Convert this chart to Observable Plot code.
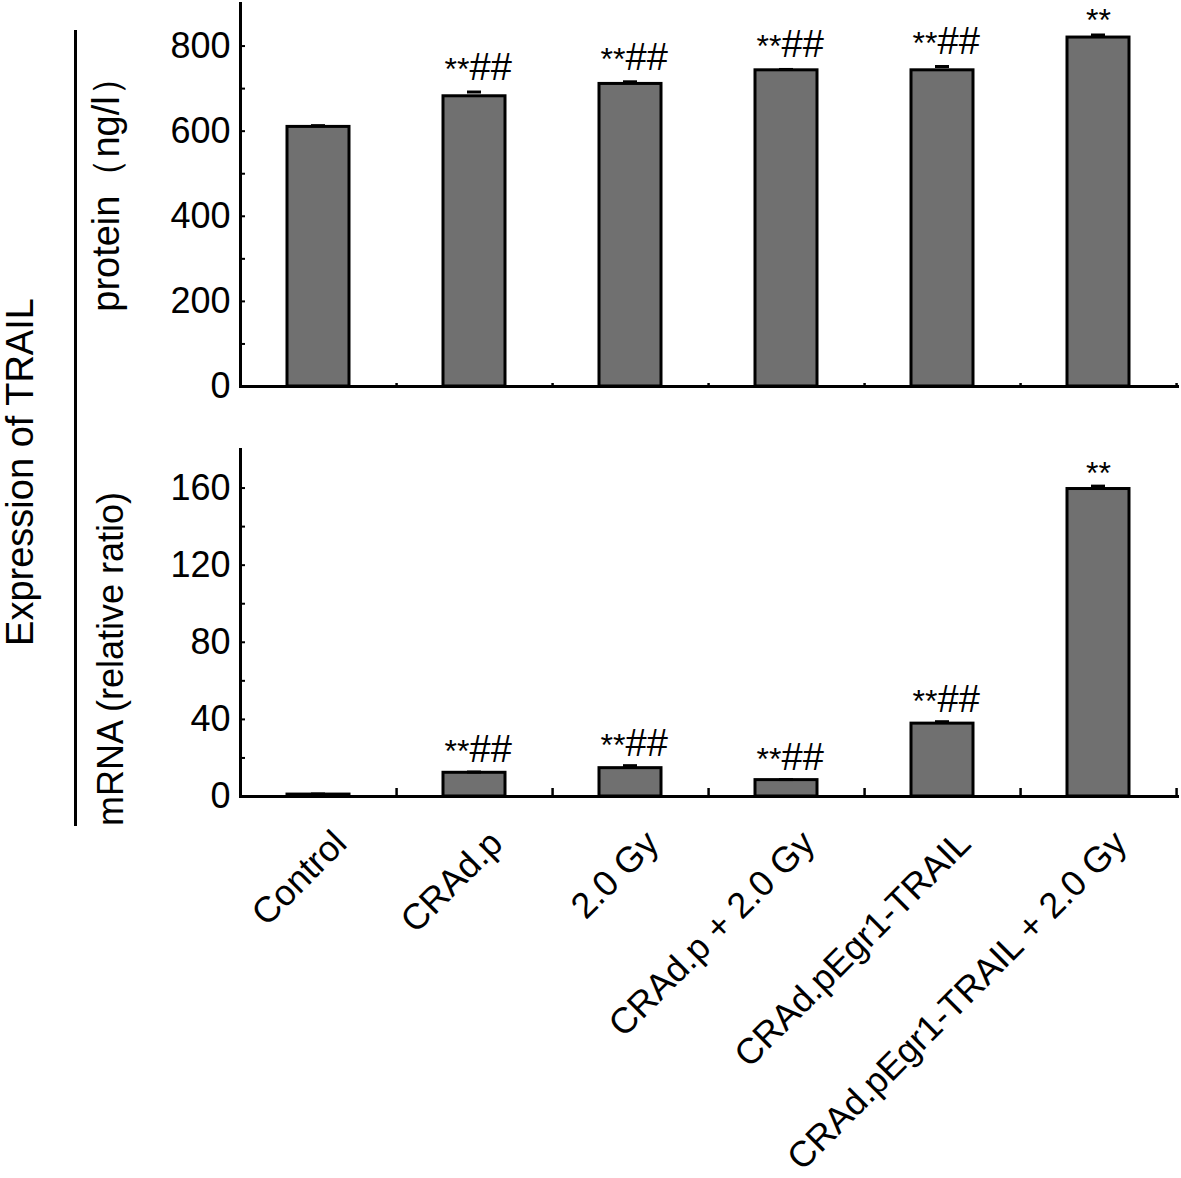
<!DOCTYPE html>
<html>
<head>
<meta charset="utf-8">
<script src="https://cdn.jsdelivr.net/npm/d3@7"></script>
<script src="https://cdn.jsdelivr.net/npm/@observablehq/plot@0.6"></script>
<style>
  html, body { margin: 0; padding: 0; background: #fff; }
  #wrap { position: relative; width: 1181px; height: 1178px; overflow: hidden; background: #fff;
          font-family: "Liberation Sans", Arial, sans-serif; color: #000; }
  #top, #bot { position: absolute; left: 0; z-index: 1; }
  #top { top: 0; }
  #bot { top: 440px; }
  .rot { position: absolute; z-index: 2; font-size: 36px; white-space: nowrap; line-height: 1;
         transform: translate(-50%, -50%) rotate(-90deg); }
  .fw { display: inline-block; width: 1em; text-align: center; }
  #vline { position: absolute; z-index: 2; left: 74px; top: 30px; width: 3px; height: 796px; background: #000; }
</style>
</head>
<body>
<div id="wrap">
  <div id="top"></div>
  <div id="bot"></div>
  <div class="rot" style="left:20px; top:472px; font-size:38px;">Expression of TRAIL</div>
  <div id="vline"></div>
  <div class="rot" style="left:106px; top:185px; font-size:38px;">protein<span class="fw">（</span>ng/l<span class="fw">）</span></div>
  <div class="rot" style="left:111px; top:659px;">mRNA (relative ratio)</div>
</div>
<script>
// ---- data ----
const categories = ["Control", "CRAd.p", "2.0 Gy", "CRAd.p + 2.0 Gy", "CRAd.pEgr1-TRAIL", "CRAd.pEgr1-TRAIL + 2.0 Gy"];
const proteinValues = [610, 682, 711, 743, 743, 820];
const proteinErrors = [3, 10, 5, 2, 9, 6];
const proteinMarks = ["", "**##", "**##", "**##", "**##", "**"];
const mrnaValues = [1, 12.3, 14.7, 8.5, 37.8, 159.5];
const mrnaErrors = [0.3, 0.4, 1.3, 0.3, 1.0, 1.5];
const mrnaMarks = ["", "**##", "**##", "**##", "**##", "**"];
const proteinTicks = [0, 200, 400, 600, 800];
const proteinMinor = [100, 200, 300, 400, 500, 600, 700, 800];
const mrnaTicks = [0, 40, 80, 120, 160];
const mrnaMinor = [20, 40, 60, 80, 100, 120, 140, 160];

const toRows = (vals, errs, marks) => categories.map((c, i) => ({
  cat: c, value: vals[i], err: errs[i],
  stars: marks[i].replace(/#/g, ""), hashes: marks[i].replace(/\*/g, "")
}));
const protein = toRows(proteinValues, proteinErrors, proteinMarks);
const mrna = toRows(mrnaValues, mrnaErrors, mrnaMarks);

const W = 1181, ML = 240, MR = 4;
const step = (W - ML - MR) / 6;
const font = "Liberation Sans, Arial, sans-serif";
const barFill = "#707070";

function panel({data, yDomain, ticks, minor, height, marginTop, marginBottom, xTickLen, showXLabels, gap}) {
  const frameH = height - marginTop - marginBottom;
  const top = d => d.value + d.err;
  const withHash = data.filter(d => d.hashes);
  const onlyStars = data.filter(d => d.stars && !d.hashes);
  const marks = [
    Plot.barY(data, {x: "cat", y: "value", fill: barFill, stroke: "#000", strokeWidth: 3}),
    Plot.tickY(data, {x: "cat", y: top, stroke: "#000", strokeWidth: 3, inset: 24}),
    Plot.text(withHash, {x: "cat", y: top, text: "stars", textAnchor: "end", lineAnchor: "bottom",
                         dx: -5, dy: -gap, fontSize: 32, fill: "#000", fontFamily: font}),
    Plot.text(withHash, {x: "cat", y: top, text: "hashes", textAnchor: "start", lineAnchor: "bottom",
                         dx: -5, dy: -gap, fontSize: 38, fill: "#000", fontFamily: font}),
    Plot.text(onlyStars, {x: "cat", y: top, text: "stars", textAnchor: "middle", lineAnchor: "bottom",
                          dy: -gap + 8, fontSize: 32, fill: "#000", fontFamily: font}),
    Plot.tickY(minor, {y: d => d, stroke: "#000", strokeWidth: 2, insetRight: (W - ML - MR) - 5}),
    Plot.tickX(categories, {x: d => d, dx: step / 2, stroke: "#000", strokeWidth: 2.5, insetTop: frameH - xTickLen}),
    Plot.axisY(ticks, {tickSize: 0, tickPadding: 10, fontSize: 36, fontFamily: font, label: null}),
    Plot.frame({anchor: "left", stroke: "#000", strokeWidth: 3}),
    Plot.frame({anchor: "bottom", stroke: "#000", strokeWidth: 3})
  ];
  if (showXLabels) {
    marks.push(Plot.axisX({tickSize: 0, tickRotate: -45, fontSize: 36, fontFamily: font, label: null,
                           textAnchor: "end", lineAnchor: "middle", dx: 22, dy: 29}));
  } else {
    marks.push(Plot.axisX({ticks: [], label: null}));
  }
  return Plot.plot({
    width: W, height, marginLeft: ML, marginRight: MR, marginTop, marginBottom,
    style: {background: "transparent", color: "#000", fontFamily: font, overflow: "visible"},
    x: {domain: categories, paddingInner: 0.6, paddingOuter: 0.3, label: null},
    y: {domain: yDomain, label: null},
    marks
  });
}

document.getElementById("top").append(panel({
  data: protein, yDomain: [0, 900], ticks: proteinTicks, minor: proteinMinor,
  height: 400, marginTop: 3, marginBottom: 14, xTickLen: 3, showXLabels: false, gap: 12
}));
document.getElementById("bot").append(panel({
  data: mrna, yDomain: [0, 180], ticks: mrnaTicks, minor: mrnaMinor,
  height: 738, marginTop: 9, marginBottom: 382, xTickLen: 8, showXLabels: true, gap: 10
}));
</script>
</body>
</html>
